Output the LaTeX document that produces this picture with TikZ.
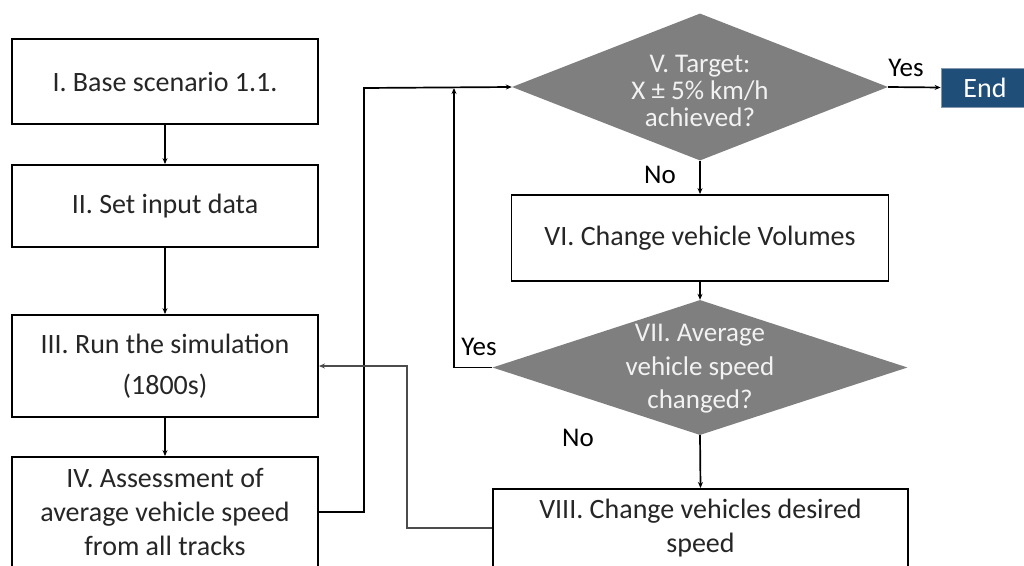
\documentclass[tikz,border=0pt]{standalone}
\usepackage{fontspec}
\setmainfont{Carlito}
\usetikzlibrary{arrows.meta,shapes.geometric}
\definecolor{boxtext}{HTML}{262626}
\definecolor{decfill}{HTML}{7F7F7F}
\definecolor{dectext}{HTML}{F2F2F2}
\definecolor{endfill}{HTML}{1F4E79}
\definecolor{endline}{HTML}{8497B0}
\tikzset{
  stepbox/.style={draw=black, line width=1.9pt, fill=white, inner sep=0pt,
    text=boxtext, align=center, font=\fontsize{28}{34}\selectfont},
  decision/.style={diamond, draw=none, fill=decfill, inner sep=0pt},
  dectxt/.style={text=dectext, align=center, inner sep=0pt},
  endbox/.style={draw=endline, line width=0.8pt, fill=endfill, text=white,
    inner sep=0pt, font=\fontsize{28}{34}\selectfont},
  lbl/.style={text=black, inner sep=0pt, font=\fontsize{27}{32}\selectfont},
  flow/.style={draw=black, line width=1.7pt, -{Stealth[length=6pt,width=5pt]}},
  backflow/.style={flow, draw=black!70},
}
\begin{document}
\begin{tikzpicture}[x=1pt,y=-1pt]
\useasboundingbox (0,0) rectangle (1024,565);

% left column: main sequence
\node[stepbox, minimum width=306pt, minimum height=85pt]  (b1) at (165,81.5) {I. Base scenario 1.1.};
\node[stepbox, minimum width=306pt, minimum height=82pt]  (b2) at (165,206)  {II. Set input data};
\node[stepbox, minimum width=306pt, minimum height=102pt] (b3) at (165,366)  {III. Run the simulation\\[7pt](1800s)};
\node[stepbox, minimum width=306pt, minimum height=110pt] (b4) at (165,512)  {IV. Assessment of\\average vehicle speed\\from all tracks};

% right column: checks and adjustments
\node[decision, minimum width=376pt, minimum height=147pt] (v) at (700,87) {};
\node[dectxt, font=\fontsize{27}{27}\selectfont] (vt) at (700,91) {V. Target:\\X ± 5\% km/h\\achieved?};
\node[endbox, minimum width=88pt, minimum height=39pt] (end) at (985,87.5) {End};

\node[stepbox, minimum width=377pt, minimum height=86pt] (vi) at (700,238) {VI. Change vehicle Volumes};

\node[decision, minimum width=415pt, minimum height=135pt] (vii) at (700,367.5) {};
\node[dectxt, font=\fontsize{27}{33.5}\selectfont] (viit) at (700,369) {VII. Average\\vehicle speed\\changed?};

\node[stepbox, minimum width=415pt, minimum height=78pt] (viii) at (700.5,528) {VIII. Change vehicles desired\\speed};

% junction points of the loop lines
\coordinate (j1) at (364,88);
\coordinate (j2) at (454,88);
\coordinate (k)  at (407,366);

% connectors
\draw[flow] (b1) -- (b2);
\draw[flow] (b2) -- (b3);
\draw[flow] (b3) -- (b4);
\draw[flow] (b4.east) -| (j1) -- (v.west);
\draw[flow] (v.east) -- (end.west);
\draw[flow] (v.south) -- (vi.north);
\draw[flow] (vi.south) -- (vii.north);
\draw[flow] (vii.south) -- (viii.north);
\draw[flow] (vii.west) -| (j2);
\draw[backflow] (viii.west) -| (k) -- (b3.east);

% branch labels
\node[lbl] (yes1) at (906,68)  {Yes};
\node[lbl] (no1)  at (660,175) {No};
\node[lbl] (yes2) at (479,347) {Yes};
\node[lbl] (no2)  at (578,438) {No};
\end{tikzpicture}
\end{document}
